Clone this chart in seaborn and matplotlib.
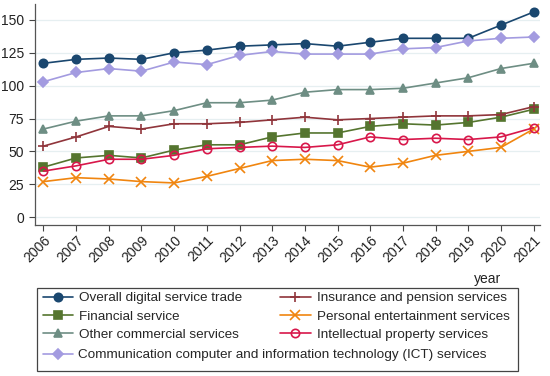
import pandas as pd
import seaborn as sns
import matplotlib.pyplot as plt
from matplotlib.patches import Rectangle

# data
years = list(range(2006, 2022))
overall = [117, 120, 121, 120, 125, 127, 130, 131, 132, 130, 133, 136, 136, 136, 146, 156]
financial = [38, 45, 47, 45, 51, 55, 55, 61, 64, 64, 69, 71, 70, 72, 76, 82]
other_commercial = [67, 73, 77, 77, 81, 87, 87, 89, 95, 97, 97, 98, 102, 106, 113, 117]
ict = [103, 110, 113, 111, 118, 116, 123, 126, 124, 124, 124, 128, 129, 134, 136, 137]
insurance = [54, 61, 69, 67, 71, 71, 72, 74, 76, 74, 75, 76, 77, 77, 78, 84]
personal_ent = [27, 30, 29, 27, 26, 31, 37, 43, 44, 43, 38, 41, 47, 50, 53, 67]
intellectual = [35, 39, 44, 44, 47, 52, 53, 54, 53, 55, 61, 59, 60, 59, 61, 68]

series = {
    "Overall digital service trade": overall,
    "Financial service": financial,
    "Other commercial services": other_commercial,
    "Communication computer and information technology (ICT) services": ict,
    "Insurance and pension services": insurance,
    "Personal entertainment services": personal_ent,
    "Intellectual property services": intellectual,
}

# stata s2color-ish styles
styles = {
    "Overall digital service trade": dict(color="#1a476f", marker="o"),
    "Financial service": dict(color="#55752f", marker="s"),
    "Other commercial services": dict(color="#6e8e84", marker="^"),
    "Communication computer and information technology (ICT) services": dict(color="#a39be0", marker="D"),
    "Insurance and pension services": dict(color="#90353b", marker="+"),
    "Personal entertainment services": dict(color="#f0850f", marker="x"),
    "Intellectual property services": dict(color="#d8174a", marker="o", markerfacecolor="none"),
}

df = pd.concat([pd.DataFrame({"year": years, "value": v, "series": k}) for k, v in series.items()])

sns.set_theme(style="white")
plt.rcParams['font.family'] = ['Liberation Sans', 'DejaVu Sans']

fig = plt.figure(figsize=(5.5, 3.76), dpi=100)
ax = fig.add_axes([0.063, 0.4016, 0.919, 0.5874])

handles = {}
for name in series:
    st = dict(styles[name])
    color = st.pop("color")
    marker = st.pop("marker")
    ms = 6 if marker not in ("+", "x") else 7
    if marker == "D":
        ms = 5.5
    sns.lineplot(data=df[df.series == name], x="year", y="value", ax=ax,
                 color=color, marker=marker, markersize=ms, markeredgecolor=color,
                 markeredgewidth=1.2, linewidth=1.2, label=name, legend=False, **st)
    handles[name] = ax.lines[-1]

ax.set_xlim(2005.73, 2021.2)
ax.set_ylim(-6, 162)
ax.set_yticks([0, 25, 50, 75, 100, 125, 150])
ax.set_xticks(years)
ax.set_xticklabels([str(y) for y in years], rotation=45, ha="right", rotation_mode="anchor")
ax.tick_params(axis="both", labelsize=10, length=4, width=0.8, color="#444444",
               left=True, bottom=True, colors="#222222")
ax.tick_params(axis="x", pad=2)
ax.yaxis.grid(True, color="#e6eff1", linewidth=0.9)
ax.set_axisbelow(True)
for s in ["top", "right"]:
    ax.spines[s].set_visible(False)
for s in ["left", "bottom"]:
    ax.spines[s].set_color("#555555")
    ax.spines[s].set_linewidth(0.9)
ax.set_xlabel("")
ax.set_ylabel("")

fig.text(501 / 550, 1 - 279 / 376, "year", ha="right", va="center", fontsize=10, color="#222222")

# legend: framed box, 2 columns + one long row
fig.patches.append(Rectangle((37 / 550, 1 - 371 / 376), 481 / 550, 83 / 376,
                             transform=fig.transFigure, fill=False,
                             edgecolor="#444444", linewidth=0.9))
names = list(series)
# matplotlib fills legend columns top to bottom
order = [names[0], names[1], names[2], names[4], names[5], names[6]]
leg1 = fig.legend([handles[n] for n in order], order, ncol=2, frameon=False,
                  loc="upper left", bbox_to_anchor=(43 / 550, 1 - 292 / 376),
                  borderpad=0, borderaxespad=0, fontsize=9.7, handlelength=2.25,
                  handletextpad=0.45, columnspacing=2.8, labelspacing=0.42)
leg2 = fig.legend([handles[names[3]]], [names[3]], frameon=False,
                  loc="upper left", bbox_to_anchor=(43 / 550, 1 - 349 / 376),
                  borderpad=0, borderaxespad=0, fontsize=9.7, handlelength=2.25,
                  handletextpad=0.35)

fig.savefig("out.png", dpi=100)
